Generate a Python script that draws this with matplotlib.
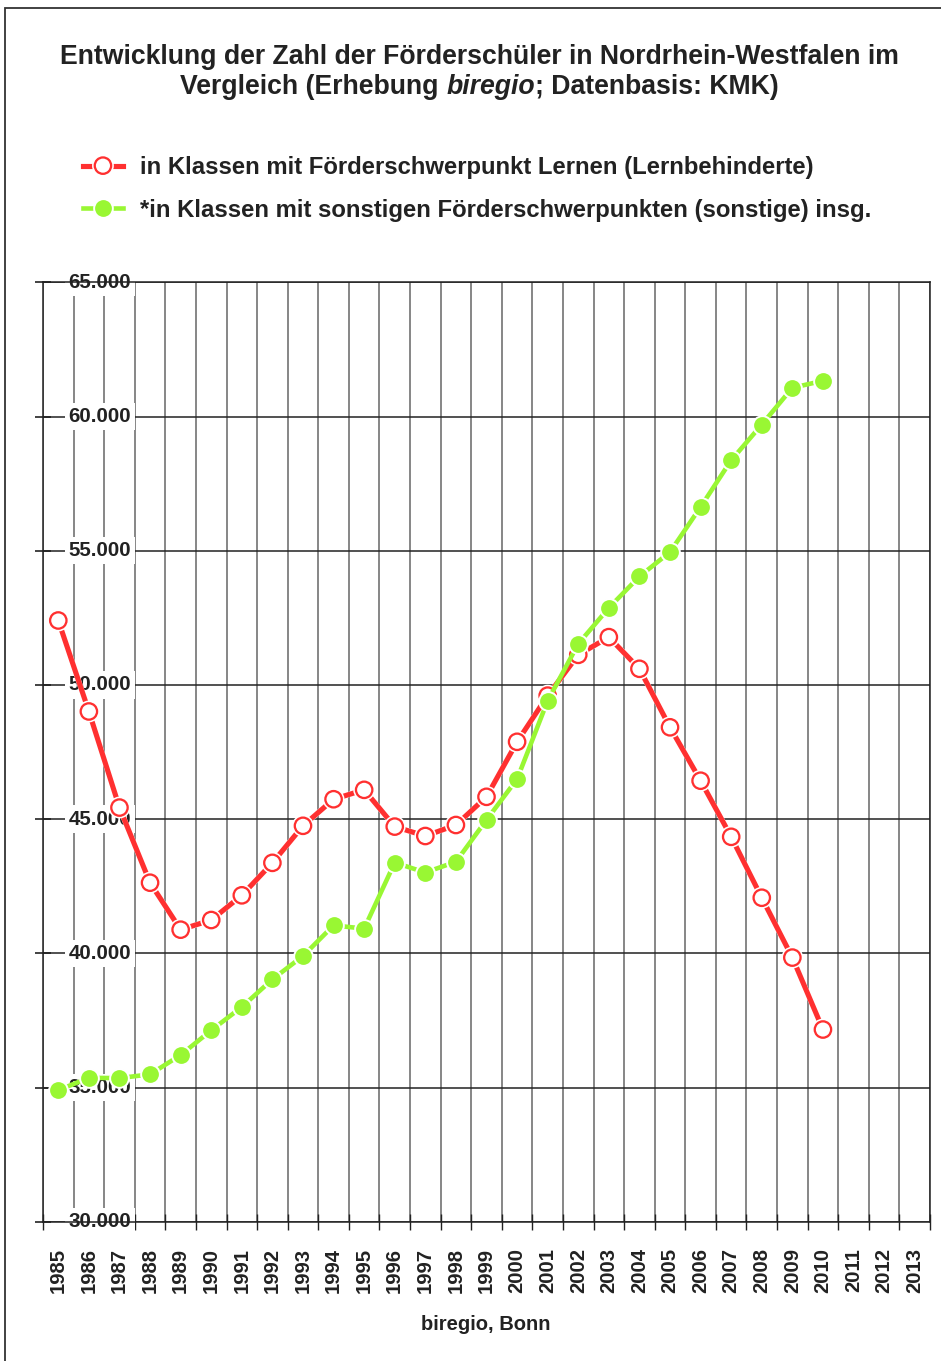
import numpy as np
import matplotlib
matplotlib.use("Agg")
import matplotlib.pyplot as plt
import matplotlib.patheffects as pe
import matplotlib.transforms as mtransforms
from matplotlib.patches import Rectangle
from matplotlib import font_manager

# Werte (1985 - 2010)
years = [str(y) for y in range(1985, 2014)]
lernen = [52400, 49010, 45430, 42630, 40880, 41240, 42160, 43370, 44750, 45740,
          46090, 44720, 44370, 44780, 45830, 47880, 49600, 51120, 51780, 50600,
          48420, 46430, 44340, 42070, 39840, 37160]
sonstige = [34900, 35360, 35350, 35490, 36210, 37130, 38000, 39030, 39900, 41040,
            40920, 43380, 43010, 43410, 44970, 46490, 49410, 51530, 52870, 54040,
            54950, 56630, 58370, 59700, 61070, 61330]
y_ticks = [30000, 35000, 40000, 45000, 50000, 55000, 60000, 65000]
label_lernen = "in Klassen mit Förderschwerpunkt Lernen (Lernbehinderte)"
label_sonst = "*in Klassen mit sonstigen Förderschwerpunkten (sonstige) insg."

RED = "#ff3030"
GREEN = "#99f733"
W, H = 941, 1361

plt.rcParams['font.family'] = ['Liberation Sans', 'DejaVu Sans']
fig = plt.figure(figsize=(W / 100, H / 100), dpi=100)
ax = fig.add_axes([43 / W, 1 - 1221.7 / H, 887 / W, 939.4 / H])

x = np.arange(len(lernen))
ax.plot(x, lernen, color=RED, lw=3.7, marker='o', ms=11.8, mfc='white', mec=RED,
        mew=1.65, zorder=3, label=label_lernen,
        path_effects=[pe.Stroke(linewidth=3.9, foreground='white'), pe.Normal()])
ax.plot(x, sonstige, color=GREEN, lw=3.3, marker='o', ms=13.5, mfc=GREEN,
        mec='white', mew=1.4, zorder=4, label=label_sonst)

ax.set_xlim(-0.5, len(years) - 0.5)
ax.set_ylim(30000, 65000)

# x-Achse: Jahre mittig, Gitter auf den Grenzen
ax.set_xticks(np.arange(len(years)))
ax.set_xticklabels(years, rotation=90, fontsize=14.6, fontweight='bold', color='#222')
ax.set_xticks(np.arange(len(years) + 1) - 0.5, minor=True)
ax.tick_params(axis='x', which='major', length=0, pad=19)
ax.tick_params(axis='x', which='minor', direction='inout', length=12, width=1, color='#222')
ax.grid(axis='x', which='minor', color='#666', lw=1.1)

ax.set_yticks(y_ticks)
ax.set_yticklabels([])
ax.tick_params(axis='y', direction='inout', length=12, width=1.2, color='#222')
ax.grid(axis='y', which='major', color='#222', lw=1.1)
ax.set_axisbelow(True)
for s in ax.spines.values():
    s.set_color('#222')
    s.set_linewidth(1.1)

# y-Beschriftung innerhalb des Diagramms, mit weissem Hintergrund
installed = {f.name for f in font_manager.fontManager.ttflist}
if 'Liberation Sans Narrow' in installed:
    yfam, ysize = 'Liberation Sans Narrow', 16.5
else:
    yfam, ysize = 'Liberation Sans', 14.8
trans = mtransforms.blended_transform_factory(ax.transAxes, ax.transData)
for v in y_ticks:
    ax.text(57 / 887, v, f"{v:,}".replace(',', '.'), transform=trans,
            family=yfam, fontsize=ysize, fontweight='bold', color='#222',
            ha='center', va='center', zorder=2.5,
            bbox=dict(boxstyle='square,pad=0.2', fc='white', ec='none'))

fig.text(486 / W, 1 - 1325 / H, "biregio, Bonn", ha='center', va='center',
         fontsize=14.5, fontweight='bold', color='#222')

# Titel
cx = 479.5 / W
fig.text(cx, 1 - 57 / H, "Entwicklung der Zahl der Förderschüler in Nordrhein-Westfalen im",
         ha='center', va='center', fontsize=19.2, fontweight='bold', color='#222')
parts = [("Vergleich (Erhebung ", 'normal'), ("biregio", 'italic'),
         ("; Datenbasis: KMK)", 'normal')]
renderer = fig.canvas.get_renderer()
texts = []
for txt, st in parts:
    t = fig.text(0, 1 - 87 / H, txt, ha='left', va='center', fontsize=19.2,
                 fontweight='bold', style=st, color='#222')
    texts.append(t)
widths = [t.get_window_extent(renderer=renderer).width for t in texts]
xpos = cx * W - sum(widths) / 2
for t, w in zip(texts, widths):
    t.set_x(xpos / W)
    xpos += w

# Legende
fig.legend(loc='upper left', bbox_to_anchor=(83 / W, 1 - 156 / H), frameon=False,
           prop={'weight': 'bold', 'size': 17.2}, handlelength=1.67,
           handletextpad=0.71, labelspacing=0.82, borderpad=0, borderaxespad=0,
           labelcolor='#222')

# Rahmen (nur links und oben sichtbar)
fig.add_artist(Rectangle((5 / W, -0.1), 1.2, 1.1 - 8 / H, transform=fig.transFigure,
                         fill=False, ec='#333', lw=1.3))

fig.savefig("out.png", dpi=100)
